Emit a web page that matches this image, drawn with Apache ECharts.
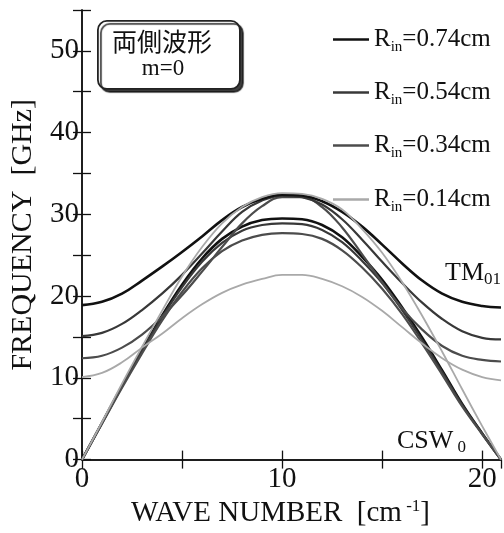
<!DOCTYPE html>
<html>
<head>
<meta charset="utf-8">
<script src="https://cdn.jsdelivr.net/npm/echarts@6/dist/echarts.min.js"></script>
<style>
  html, body { margin: 0; padding: 0; background: #fff; }
  #main { width: 504px; height: 533px; }
</style>
</head>
<body>
<div id="main"></div>
<script>
// wave number grid [cm^-1]
var waveNumber = [0, 1, 2, 3, 4, 5, 6, 7, 8, 9, 10, 11, 12, 13, 14, 15, 16, 17, 18, 19, 20, 20.94];

// TM01 branches [GHz]
var tm074 = [18.9, 19.3, 20.3, 21.9, 23.6, 25.4, 27.3, 29.3, 30.9, 31.9, 32.4, 32.3, 31.6, 30.3, 28.5, 26.3, 24.0, 21.9, 20.3, 19.3, 18.8, 18.6];
var tm054 = [15.1, 15.5, 16.6, 18.3, 20.3, 22.6, 25.2, 27.9, 30.3, 31.7, 32.3, 32.1, 31.2, 29.4, 26.9, 24.2, 21.6, 19.2, 17.2, 15.7, 14.9, 14.7];
var tm034 = [12.4, 12.7, 13.7, 15.3, 17.5, 20.1, 23.0, 26.0, 28.9, 31.0, 32.1, 32.1, 30.9, 28.4, 25.1, 21.7, 18.5, 15.9, 13.9, 12.7, 12.2, 12.0];
var tm014 = [10.1, 10.6, 11.9, 13.7, 15.4, 17.3, 19.0, 20.4, 21.4, 22.1, 22.6, 22.6, 22.1, 21.2, 19.9, 18.2, 16.2, 14.2, 12.4, 11.0, 10.1, 9.7];

// CSW0 branches [GHz]
var csw074 = [0, 4.5, 9.0, 13.4, 17.6, 21.4, 24.6, 27.0, 28.5, 29.3, 29.5, 29.4, 28.7, 27.2, 24.8, 22.0, 18.6, 14.9, 10.9, 6.8, 3.2, 0];
var csw054 = [0, 4.5, 9.0, 13.3, 17.4, 21.1, 24.2, 26.5, 28.0, 28.7, 28.9, 28.8, 28.1, 26.6, 24.3, 21.6, 18.3, 14.6, 10.7, 6.7, 3.2, 0];
var csw034 = [0, 4.4, 8.8, 13.0, 17.0, 20.5, 23.4, 25.5, 26.8, 27.5, 27.7, 27.6, 27.0, 25.6, 23.5, 20.9, 17.8, 14.2, 10.4, 6.5, 3.1, 0];
var csw014 = [0, 4.6, 9.3, 13.8, 18.2, 22.4, 26.0, 28.9, 30.9, 32.1, 32.6, 32.5, 31.9, 30.6, 28.2, 25.3, 21.7, 17.6, 13.2, 8.6, 4.1, 0];

var radii = ['0.74', '0.54', '0.34', '0.14'];
var yTicks = [0, 10, 20, 30, 40, 50];
var xTicks = [0, 10, 20];

var serif = 'Liberation Serif';
var ink = '#111';

function pairs(ys) {
    return waveNumber.map(function (k, i) { return [k, ys[i]]; });
}

var colors = { '0.74': '#111', '0.54': '#383838', '0.34': '#4c4c4c', '0.14': '#a9a9a9' };
var widths = { '0.74': 2.6, '0.54': 2.2, '0.34': 2.2, '0.14': 1.8 };

function curve(r, ys) {
    return {
        name: 'R' + r,
        type: 'line',
        smooth: 0.4,
        symbol: 'none',
        silent: true,
        lineStyle: { color: colors[r], width: widths[r] },
        itemStyle: { color: colors[r] },
        data: pairs(ys)
    };
}

// light grey CSW0 last so it lies on top of the shared arc
var series = [
    curve('0.74', csw074),
    curve('0.54', csw054),
    curve('0.34', csw034),
    curve('0.14', tm014),
    curve('0.34', tm034),
    curve('0.54', tm054),
    curve('0.74', tm074),
    curve('0.14', csw014)
];

// one legend block per radius so the rows can be placed freely
var legendTops = [22, 75, 128, 182];
var legends = radii.map(function (r, i) {
    return {
        data: ['R' + r],
        orient: 'vertical',
        left: 328,
        top: legendTops[i],
        icon: 'rect',
        itemWidth: 36,
        itemHeight: 2.6,
        selectedMode: false,
        formatter: function (name) {
            return '{a|R}{b|in}{a|=' + name.slice(1) + 'cm}';
        },
        textStyle: {
            rich: {
                a: { fontFamily: serif, fontSize: 25, color: ink, lineHeight: 30 },
                b: { fontFamily: serif, fontSize: 15, color: ink, lineHeight: 14, verticalAlign: 'bottom' }
            }
        }
    };
});

var axisLineStyle = { color: ink, width: 1.5 };
var tickStyle = { color: ink, width: 1.3 };

var option = {
    backgroundColor: '#fff',
    animation: false,
    grid: { left: 82, right: 3, top: 10, bottom: 65 },
    legend: legends,
    xAxis: [{
        type: 'value',
        min: 0,
        max: 20.94,
        interval: 5,
        position: 'bottom',
        axisLine: { show: true, lineStyle: axisLineStyle },
        axisTick: { inside: true, length: 9, lineStyle: tickStyle },
        splitLine: { show: false },
        axisLabel: {
            margin: 5,
            fontFamily: serif,
            fontSize: 29,
            color: ink,
            showMaxLabel: false,
            formatter: function (v) { return xTicks.indexOf(v) >= 0 ? String(v) : ''; }
        },
        name: '{a|WAVE NUMBER  [cm}{s| -1}{a|]}',
        nameLocation: 'middle',
        nameGap: 36,
        nameTextStyle: {
            padding: [0, 22, 0, 0],
            rich: {
                a: { fontFamily: serif, fontSize: 29, color: ink, lineHeight: 30 },
                s: { fontFamily: serif, fontSize: 17, color: ink, lineHeight: 16, verticalAlign: 'top' }
            }
        }
    }, {
        type: 'value',
        min: 0,
        max: 20.94,
        interval: 5,
        position: 'top',
        axisLine: { show: true, lineStyle: axisLineStyle },
        axisTick: { inside: true, length: 9, lineStyle: tickStyle },
        axisLabel: { show: false },
        splitLine: { show: false }
    }],
    yAxis: [{
        type: 'value',
        min: 0,
        max: 55,
        interval: 5,
        position: 'left',
        axisLine: { show: true, lineStyle: axisLineStyle },
        axisTick: { inside: true, length: 9, lineStyle: tickStyle },
        splitLine: { show: false },
        axisLabel: {
            margin: 3,
            fontFamily: serif,
            fontSize: 29,
            color: ink,
            formatter: function (v) { return yTicks.indexOf(v) >= 0 ? String(v) : ''; }
        },
        name: 'FREQUENCY  [GHz]',
        nameLocation: 'middle',
        nameGap: 44,
        nameTextStyle: { fontFamily: serif, fontSize: 30, color: ink }
    }, {
        type: 'value',
        min: 0,
        max: 55,
        interval: 5,
        position: 'right',
        axisLine: { show: true, lineStyle: axisLineStyle },
        axisTick: { inside: true, length: 9, lineStyle: tickStyle },
        axisLabel: { show: false },
        splitLine: { show: false }
    }],
    graphic: [
        // label box in the upper left corner
        {
            type: 'rect',
            left: 97,
            top: 20,
            shape: { width: 142, height: 68, r: 9 },
            style: {
                fill: '#fff',
                stroke: '#222',
                lineWidth: 1.8,
                shadowColor: 'rgba(0,0,0,0.75)',
                shadowOffsetX: 3,
                shadowOffsetY: 3,
                shadowBlur: 1
            },
            z: 10
        },
        {
            type: 'text',
            x: 162,
            y: 41,
            z: 11,
            style: {
                text: '両側波形',
                font: '25px "Noto Sans CJK JP"',
                fill: ink,
                align: 'center',
                verticalAlign: 'middle'
            }
        },
        {
            type: 'text',
            x: 163,
            y: 69,
            z: 11,
            style: {
                text: 'm=0',
                font: '23px "Liberation Serif"',
                fill: ink,
                align: 'center',
                verticalAlign: 'middle'
            }
        },
        {
            type: 'text',
            x: 445,
            y: 273,
            z: 11,
            style: {
                text: '{a|TM}{b|01}',
                verticalAlign: 'middle',
                rich: {
                    a: { fontFamily: serif, fontSize: 26, fill: ink, lineHeight: 30 },
                    b: { fontFamily: serif, fontSize: 17, fill: ink, lineHeight: 15, verticalAlign: 'bottom' }
                }
            }
        },
        {
            type: 'text',
            x: 397,
            y: 441,
            z: 11,
            style: {
                text: '{a|CSW}{b| 0}',
                verticalAlign: 'middle',
                rich: {
                    a: { fontFamily: serif, fontSize: 26, fill: ink, lineHeight: 30 },
                    b: { fontFamily: serif, fontSize: 17, fill: ink, lineHeight: 15, verticalAlign: 'bottom' }
                }
            }
        }
    ],
    series: series
};

var chart = echarts.init(document.getElementById('main'), null, { renderer: 'canvas' });
chart.setOption(option);
</script>
</body>
</html>
